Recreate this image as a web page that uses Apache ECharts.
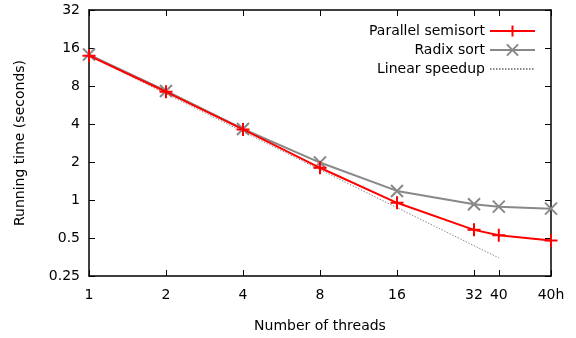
<!DOCTYPE html>
<html><head><meta charset="utf-8">
<script src="https://cdn.jsdelivr.net/npm/echarts@6/dist/echarts.min.js"></script>
<style>html,body{margin:0;padding:0;background:#fff}#c{width:576px;height:338px}</style>
</head><body><div id="c"></div>
<script>
const threadPos = [1, 2, 4, 8, 16, 32, 40, 64];
const tickLabels = ['1', '2', '4', '8', '16', '32', '40', '40h'];
const semisort = [13.9, 7.2, 3.62, 1.80, 0.95, 0.58, 0.526, 0.478];
const radix = [14.2, 7.3, 3.65, 1.98, 1.18, 0.926, 0.886, 0.854];
const linearPos = [1, 40];
const linear = [13.9, 0.348];
const yTicks = [0.25, 0.5, 1, 2, 4, 8, 16, 32];

const FONT = 'DejaVu Sans';
const FS = 14;
const lbl = {};
threadPos.forEach((p, i) => lbl[p] = tickLabels[i]);

const chart = echarts.init(document.getElementById('c'), null, {renderer: 'canvas'});
const axisLine = {show: true, lineStyle: {color: '#000', width: 1.5}};
const tick = {show: true, inside: true, length: 6, lineStyle: {color: '#000', width: 1}};
const xCommon = {
  type: 'log', logBase: 2, min: 1, max: 64, gridIndex: 0,
  axisLine: axisLine, splitLine: {show: false}
};
const yCommon = {
  type: 'log', logBase: 2, min: 0.25, max: 32, gridIndex: 0,
  axisLine: axisLine, splitLine: {show: false}
};
chart.setOption({
  animation: false,
  textStyle: {fontFamily: FONT},
  grid: {left: 89, right: 25, top: 10, bottom: 62},
  legend: {
    orient: 'vertical', right: 35, top: 19, align: 'right',
    itemWidth: 45, itemHeight: 14, itemGap: 5,
    textStyle: {fontFamily: FONT, fontSize: FS, color: '#000'},
    data: [
      {name: 'Parallel semisort'},
      {name: 'Radix sort'},
      {name: 'Linear speedup', itemStyle: {opacity: 0}}
    ]
  },
  xAxis: [
    Object.assign({}, xCommon, {
      position: 'bottom',
      name: 'Number of threads', nameLocation: 'middle', nameGap: 43,
      nameTextStyle: {fontFamily: FONT, fontSize: FS, color: '#000'},
      axisTick: Object.assign({}, tick, {customValues: threadPos}),
      axisLabel: {customValues: threadPos, margin: 12, fontFamily: FONT, fontSize: FS, color: '#000',
        formatter: v => lbl[v] !== undefined ? lbl[v] : ''}
    }),
    Object.assign({}, xCommon, {
      position: 'top',
      axisTick: Object.assign({}, tick, {customValues: threadPos}),
      axisLabel: {show: false}
    })
  ],
  yAxis: [
    Object.assign({}, yCommon, {
      position: 'left',
      name: 'Running time (seconds)', nameLocation: 'middle', nameGap: 62,
      nameTextStyle: {fontFamily: FONT, fontSize: FS, color: '#000'},
      axisTick: Object.assign({}, tick, {customValues: yTicks}),
      axisLabel: {customValues: yTicks, margin: 9, fontFamily: FONT, fontSize: FS, color: '#000',
        formatter: v => String(v)}
    }),
    Object.assign({}, yCommon, {
      position: 'right',
      axisTick: Object.assign({}, tick, {customValues: yTicks}),
      axisLabel: {show: false}
    })
  ],
  series: [
    {
      name: 'Parallel semisort', type: 'line', z: 5,
      data: threadPos.map((p, i) => [p, semisort[i]]),
      lineStyle: {color: '#ff0000', width: 2},
      symbol: 'path://M0,5L10,5M5,0L5,10', symbolSize: 13,
      itemStyle: {color: '#ff0000', borderColor: '#ff0000', borderWidth: 2}
    },
    {
      name: 'Radix sort', type: 'line', z: 4,
      data: threadPos.map((p, i) => [p, radix[i]]),
      lineStyle: {color: '#888888', width: 2},
      symbol: 'path://M0,0L10,10M10,0L0,10', symbolSize: 12,
      itemStyle: {color: '#888888', borderColor: '#888888', borderWidth: 2}
    },
    {
      name: 'Linear speedup', type: 'line', z: 3,
      data: linearPos.map((p, i) => [p, linear[i]]),
      lineStyle: {color: '#888888', width: 1, type: [1.5, 1.5]},
      symbol: 'none',
      itemStyle: {color: '#888888'}
    }
  ]
});
</script>
</body></html>
